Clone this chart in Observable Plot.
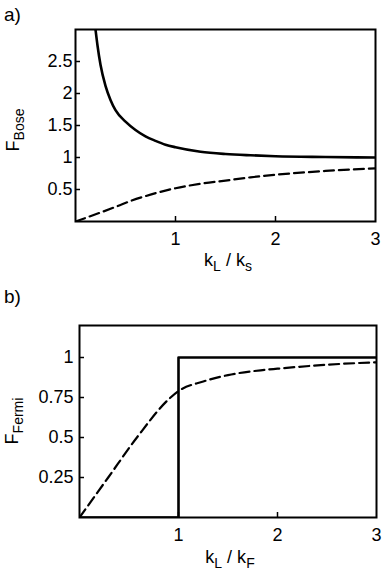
<!DOCTYPE html>
<html>
<head>
<meta charset="utf-8">
<script src="https://cdn.jsdelivr.net/npm/d3@7"></script>
<script src="https://cdn.jsdelivr.net/npm/@observablehq/plot@0.6"></script>
<style>
  html, body { margin: 0; padding: 0; background: white; }
  #chart svg { display: block; }
  #chart text { white-space: pre; }
</style>
</head>
<body>
<div id="chart"></div>
<script>
// ---- Data ----
// Panel a) F_Bose vs kL/ks
const boseSolidX = [0.2, 0.22, 0.25, 0.3, 0.35, 0.4, 0.5, 0.6, 0.7, 0.8, 0.9, 1.0, 1.25, 1.5, 1.75, 2.0, 2.5, 3.0];
const boseSolidY = [3.0, 2.75, 2.45, 2.12, 1.9, 1.74, 1.56, 1.43, 1.33, 1.26, 1.2, 1.16, 1.09, 1.055, 1.035, 1.02, 1.008, 1.0];
const boseDashX = [0, 0.25, 0.42, 0.55, 0.75, 1.0, 1.25, 1.5, 1.75, 2.0, 2.5, 3.0];
const boseDashY = [0, 0.14, 0.24, 0.32, 0.42, 0.52, 0.59, 0.64, 0.69, 0.73, 0.79, 0.83];
const boseYTicks = [0.5, 1, 1.5, 2, 2.5];

// Panel b) F_Fermi vs kL/kF
const fermiStepX = [0, 1, 1, 3];
const fermiStepY = [0, 0, 1, 1];
const fermiDashX = [0, 0.29, 0.58, 0.92, 1.0, 1.25, 1.5, 1.83, 2.0, 2.5, 3.0];
const fermiDashY = [0, 0.25, 0.5, 0.75, 0.79, 0.85, 0.89, 0.92, 0.93, 0.955, 0.97];
const fermiYTicks = [0.25, 0.5, 0.75, 1];

const xTickLabels = [1, 2, 3];
const xInnerTicks = [1, 2];

const FONT = "'Liberation Sans', Arial, Helvetica, sans-serif";
const TICK_FS = 18;
const W = 382, H = 287;

function toPts(xs, ys) { return xs.map((x, i) => ({x, y: ys[i]})); }

function panel({mt, mb, ml, mr, yDomain, yTicks, yPad, solid, dash, solidCurve}) {
  const innerW = W - ml - mr, innerH = H - mt - mb;
  const svg = Plot.plot({
    width: W, height: H,
    marginTop: mt, marginBottom: mb, marginLeft: ml, marginRight: mr,
    x: {domain: [0, 3], axis: null},
    y: {domain: yDomain, axis: null},
    style: {fontFamily: FONT, fontSize: TICK_FS + "px", color: "black", background: "white"},
    marks: [
      Plot.text(xTickLabels, {x: d => d, text: d => String(d), frameAnchor: "bottom", lineAnchor: "top", dy: 11, fontSize: TICK_FS, fill: "black"}),
      Plot.text(yTicks, {y: d => d, text: d => String(d), frameAnchor: "left", textAnchor: "end", lineAnchor: "middle", dx: -yPad, fontSize: TICK_FS, fill: "black"}),
      Plot.tickX(xInnerTicks, {x: d => d, insetTop: innerH - 5, strokeWidth: 1.5, stroke: "black"}),
      Plot.tickY(yTicks, {y: d => d, insetRight: innerW - 5, strokeWidth: 1.5, stroke: "black"}),
      Plot.line(dash, {x: "x", y: "y", stroke: "black", strokeWidth: 2.2, strokeDasharray: "10,5", curve: "monotone-x", clip: true}),
      Plot.line(solid, {x: "x", y: "y", stroke: "black", strokeWidth: 2.6, curve: solidCurve, clip: true}),
      Plot.frame({stroke: "black", strokeWidth: 2})
    ]
  });
  d3.select(svg).selectAll('g[aria-label="text"] text')
    .style("font-size", TICK_FS + "px")
    .style("font-family", FONT);
  return svg;
}

function addSubLabel(svg, {x, y, rotate, main, sub, main2, sub2}) {
  const t = d3.select(svg).append("text")
    .style("font-family", FONT)
    .style("font-size", "18px")
    .attr("fill", "black")
    .attr("text-anchor", "middle")
    .attr("transform", `translate(${x},${y})` + (rotate ? ` rotate(${rotate})` : ""));
  t.append("tspan").text(main);
  t.append("tspan").style("font-size", "14px").attr("dy", 5).text(sub);
  if (main2 !== undefined) {
    t.append("tspan").attr("dy", -5).text(main2);
    t.append("tspan").style("font-size", "14px").attr("dy", 5).text(sub2);
  }
}

function addPanelTag(svg, txt, y) {
  d3.select(svg).append("text")
    .style("font-family", FONT).style("font-size", "19px").attr("fill", "black")
    .attr("text-anchor", "start")
    .attr("x", 4).attr("y", y).text(txt);
}

const panelA = panel({
  mt: 29, mb: 66, ml: 75, mr: 7,
  yDomain: [0, 3], yTicks: boseYTicks, yPad: 3,
  solid: toPts(boseSolidX, boseSolidY),
  dash: toPts(boseDashX, boseDashY),
  solidCurve: "monotone-x"
});
addPanelTag(panelA, "a)", 21);
addSubLabel(panelA, {x: 19, y: 130, rotate: -90, main: "F", sub: "Bose"});
addSubLabel(panelA, {x: 228, y: 266, main: "k", sub: "L", main2: " / k", sub2: "s"});

const panelB = panel({
  mt: 38, mb: 57, ml: 79, mr: 6,
  yDomain: [0, 1.2], yTicks: fermiYTicks, yPad: 6,
  solid: toPts(fermiStepX, fermiStepY),
  dash: toPts(fermiDashX, fermiDashY),
  solidCurve: "linear"
});
addPanelTag(panelB, "b)", 16);
addSubLabel(panelB, {x: 18, y: 134, rotate: -90, main: "F", sub: "Fermi"});
addSubLabel(panelB, {x: 230, y: 276, main: "k", sub: "L", main2: " / k", sub2: "F"});

document.getElementById("chart").append(panelA, panelB);
</script>
</body>
</html>
